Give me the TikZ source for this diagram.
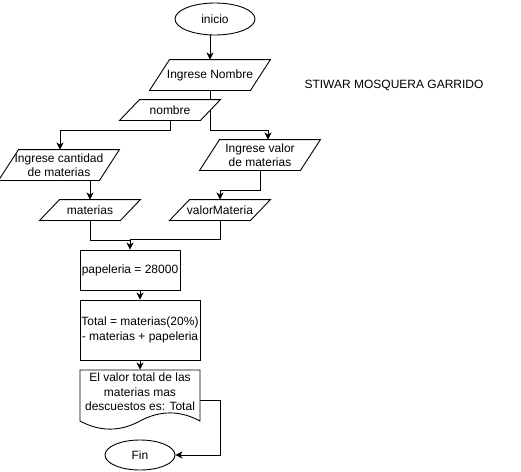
\documentclass[tikz,border=0pt]{standalone}
\usepackage{fontspec}
\setmainfont{Liberation Sans}
\usetikzlibrary{arrows.meta,shapes.geometric}
\newcommand\pparashape[2]{\draw ([xshift=#2]#1.north west) -- (#1.north east) -- ([xshift=-#2]#1.south east) -- (#1.south west) -- cycle;}
\begin{document}
\begin{tikzpicture}[x=1pt,y=-1pt,
  font=\fontsize{12}{14.5}\selectfont,
  line width=0.9pt,
  >={Stealth[length=7pt,width=7pt,inset=2pt]},
  ell/.style={draw, ellipse, inner sep=0pt},
  par/.style={inner sep=0pt, align=center},
  rectbox/.style={draw, rectangle, inner sep=0pt, align=center}]
\fill[white] (0,0) rectangle (521,471);
\useasboundingbox (0,0) rectangle (521,471);

\coordinate (xa) at (210,0);
\coordinate (xc) at (90,0);

\node[ell, minimum width=80pt, minimum height=32pt] (ini) at (215,19) {inicio};
\node[par, minimum width=120pt, minimum height=30pt] (nomin) at (210,75) {Ingrese Nombre};
\node[par, minimum width=100pt, minimum height=20pt] (nombre) at (170,110) {nombre};
\node[par, minimum width=120pt, minimum height=30pt] (cant) at (59,165) {Ingrese cantidad\\de materias};
\node[par, minimum width=120pt, minimum height=30pt] (valin) at (260,155) {Ingrese valor\\de materias};
\node[par, minimum width=100pt, minimum height=20pt] (materias) at (90,210) {materias};
\node[par, minimum width=100pt, minimum height=20pt] (valm) at (220,210) {valorMateria};
\node[rectbox, minimum width=100pt, minimum height=40pt] (pap) at (130,270) {papeleria = 28000};
\node[rectbox, minimum width=120pt, minimum height=60pt] (tot) at (140,330) {Total = materias(20\%)\\- materias + papeleria};
\node[inner sep=0pt, minimum width=120pt, minimum height=60pt] (doc) at (140,400) {};
\node[par] (doctxt) at (140,392) {El valor total de las\\materias mas\\descuestos es: Total};
\node[ell, minimum width=70pt, minimum height=30pt] (fin) at (140,455) {Fin};
\node[inner sep=0pt] (autor) at (394,85) {STIWAR MOSQUERA GARRIDO};

\pparashape{nomin}{20pt}
\pparashape{nombre}{20pt}
\pparashape{cant}{20pt}
\pparashape{valin}{20pt}
\pparashape{materias}{20pt}
\pparashape{valm}{20pt}

% document shape
\draw (80,370) -- (200,370) -- (200,421)
  .. controls (180,410.2) and (160,410.2) .. (140,421)
  .. controls (120,431.8) and (100,431.8) .. (80,421) -- cycle;

% connectors
\draw[->] (ini.south -| xa) -- (nomin.north -| xa);
\draw (nomin.south -| xa) -- (nombre.north -| xa);
\draw[->] (nombre.center -| xa) -- ++(0,20) -| ([xshift=8pt]valin.north);
\draw[->] (nombre.south) -- ++(0,10) -| ([xshift=1pt]cant.north);
\draw[->] (cant.south -| xc) -- (materias.north -| xc);
\draw[->] (valin.south) -- ++(0,20) -| (valm.north);
\draw[->] (materias.south) -- ++(0,20) -| (pap.north);
\draw (valm.south) |- ([yshift=10pt]pap.north);
\draw[->] (pap.south -| tot.north) -- (tot.north);
\draw[->] (tot.south) -- (doc.north);
\draw[->] (doc.east) -- ++(20,0) |- (fin.east);
\end{tikzpicture}
\end{document}
